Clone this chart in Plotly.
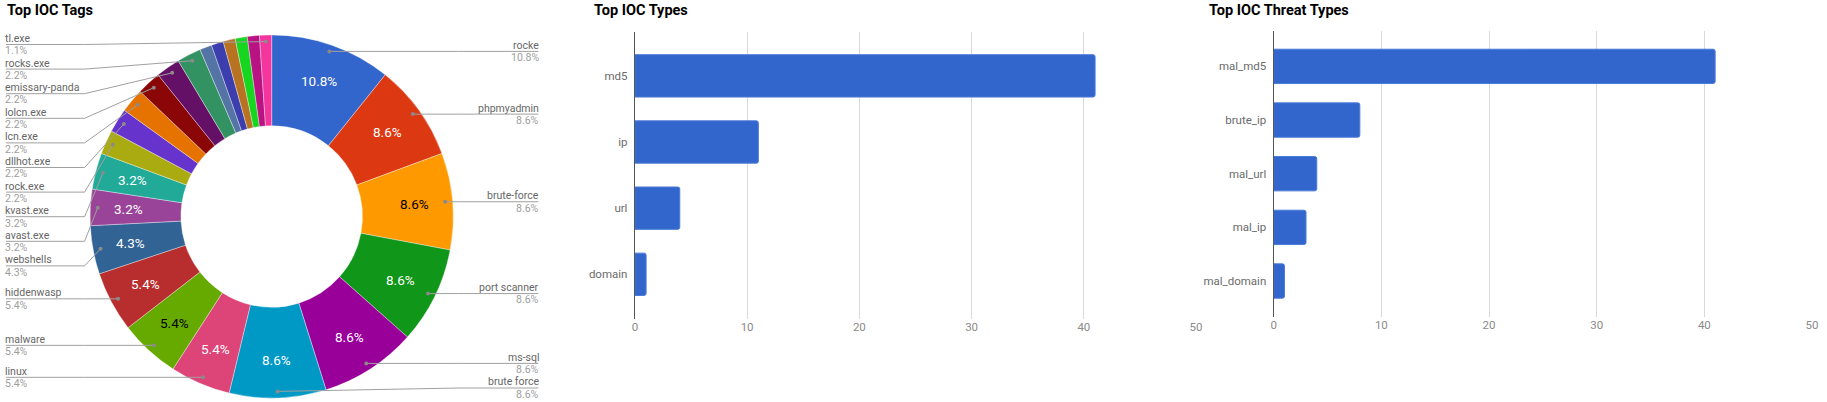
import math
import plotly.graph_objects as go

# ---------------- data ----------------
tags = ["rocke", "phpmyadmin", "brute-force", "port scanner", "ms-sql", "brute force",
        "linux", "malware", "hiddenwasp", "webshells", "avast.exe", "kvast.exe",
        "rock.exe", "dllhot.exe", "lcn.exe", "lolcn.exe", "emissary-panda", "rocks.exe",
        "other-1", "other-2", "other-3", "other-4", "other-5", "tl.exe"]
tag_counts = [10, 8, 8, 8, 8, 8, 5, 5, 5, 4, 3, 3, 2, 2, 2, 2, 2, 2, 1, 1, 1, 1, 1, 1]
unlabeled_tags = {"other-1", "other-2", "other-3", "other-4", "other-5"}
dark_text_tags = {"brute-force", "malware"}

ioc_types = ["md5", "ip", "url", "domain"]
ioc_type_counts = [41, 11, 4, 1]

threat_types = ["mal_md5", "brute_ip", "mal_url", "mal_ip", "mal_domain"]
threat_type_counts = [41, 8, 4, 3, 1]

# ---------------- style ----------------
W, H = 1827, 402
FONT = "Roboto"
palette = ["#3366cc", "#dc3912", "#ff9900", "#109618", "#990099", "#0099c6", "#dd4477",
           "#66aa00", "#b82e2e", "#316395", "#994499", "#22aa99", "#aaaa11", "#6633cc",
           "#e67300", "#8b0707", "#651067", "#329262", "#5574a6", "#3b3eac", "#b77322",
           "#16d620", "#b91383", "#f4359e"]
BAR = "#3366cc"
GRID = "#d9d9d9"
LEAD = "#a0a0a0"
NAME_C = "#666666"
PCT_C = "#9e9e9e"


def px(x):
    return x / W


def py(y):
    return 1 - y / H


# pie geometry (pixels)
cx, cy, R = 270, 216.5, 182.5
R_DOT, R_TXT = 175, 144

fig = go.Figure()

fig.add_trace(go.Pie(
    labels=tags, values=tag_counts, hole=0.5, sort=False, direction="clockwise",
    rotation=0, textinfo="none", showlegend=False,
    marker=dict(colors=palette[:len(tags)], line=dict(color="rgba(255,255,255,0.6)", width=0.6)),
    domain=dict(x=[px(cx - R), px(cx + R)], y=[py(cy + R), py(cy - R)]),
))

annotations = []
shapes = []
total = sum(tag_counts)
cum = 0
left, right = [], []
for name, v in zip(tags, tag_counts):
    mid = (cum + v / 2) / total * 2 * math.pi
    cum += v
    s, c = math.sin(mid), math.cos(mid)
    pct = 100 * v / total
    if pct >= 3:
        annotations.append(dict(
            x=px(cx + R_TXT * s), y=py(cy - R_TXT * c), xref="paper", yref="paper",
            text=f"{pct:.1f}%", showarrow=False, xanchor="center", yanchor="middle",
            font=dict(family=FONT, size=13.5, color="#000000" if name in dark_text_tags else "#ffffff")))
    if name in unlabeled_tags:
        continue
    dot = (cx + R_DOT * s, cy - R_DOT * c)
    (right if s > 0 else left).append([name, pct, dot, dot[1]])

GAP, YMIN, YMAX = 24.6, 44.5, 388


def stack(items):
    items.sort(key=lambda t: t[2][1])
    prev = -1e9
    for it in items:
        it[3] = max(it[2][1], prev + GAP, YMIN)
        prev = it[3]
    nxt = 1e9
    for it in reversed(items):
        it[3] = min(it[3], nxt - GAP, YMAX)
        nxt = it[3]


stack(left)
stack(right)

LBL_SIZE = 10.5
for side, items in (("left", left), ("right", right)):
    for name, pct, dot, ly in items:
        if side == "left":
            x_end, x_bend, xa, xt = 3, 82, "left", 2
        else:
            x_end, x_bend, xa, xt = 538, 458, "right", 539
        shapes.append(dict(type="line", xref="paper", yref="paper", layer="above",
                           x0=px(x_end), y0=py(ly), x1=px(x_bend), y1=py(ly),
                           line=dict(color=LEAD, width=1)))
        shapes.append(dict(type="line", xref="paper", yref="paper", layer="above",
                           x0=px(x_bend), y0=py(ly), x1=px(dot[0]), y1=py(dot[1]),
                           line=dict(color=LEAD, width=1)))
        shapes.append(dict(type="circle", xref="paper", yref="paper", layer="above",
                           x0=px(dot[0] - 2), x1=px(dot[0] + 2), y0=py(dot[1] + 2), y1=py(dot[1] - 2),
                           fillcolor="#8a8a8a", line=dict(width=0)))
        annotations.append(dict(x=px(xt), y=py(ly - 6.1), xref="paper", yref="paper",
                                text=name, showarrow=False, xanchor=xa, yanchor="middle",
                                borderpad=0, borderwidth=0,
                                font=dict(family=FONT, size=LBL_SIZE, color=NAME_C)))
        annotations.append(dict(x=px(xt), y=py(ly + 6.3), xref="paper", yref="paper",
                                text=f"{pct:.1f}%", showarrow=False, xanchor=xa, yanchor="middle",
                                borderpad=0, borderwidth=0,
                                font=dict(family=FONT, size=LBL_SIZE, color=PCT_C)))

# titles
for text, x in (("Top IOC Tags", 2), ("Top IOC Types", 592), ("Top IOC Threat Types", 1210)):
    annotations.append(dict(x=px(x), y=py(10), xref="paper", yref="paper", text=f"<b>{text}</b>",
                            showarrow=False, xanchor="left", yanchor="middle",
                            font=dict(family=FONT, size=14.5, color="#000000")))

bar_style = dict(color=BAR, line=dict(color="#4a7bd8", width=1), cornerradius=2)
fig.add_trace(go.Bar(x=ioc_type_counts, y=ioc_types, orientation="h", width=0.64,
                     marker=bar_style, xaxis="x", yaxis="y", showlegend=False))
fig.add_trace(go.Bar(x=threat_type_counts, y=threat_types, orientation="h", width=0.64,
                     marker=bar_style, xaxis="x2", yaxis="y2", showlegend=False))

xcommon = dict(range=[0, 50], dtick=10, showgrid=True, gridcolor=GRID, gridwidth=1,
               zeroline=False, showline=False, ticks="",
               tickfont=dict(family=FONT, size=11.5, color="#8a8a8a"), fixedrange=True)
ycommon = dict(type="category", showgrid=False, zeroline=False, showline=True,
               linecolor="#555555", linewidth=1.3, ticks="", ticklabelstandoff=4,
               tickfont=dict(family=FONT, size=11.5, color="#6b6b6b"), fixedrange=True)

fig.update_layout(
    width=W, height=H, margin=dict(l=0, r=0, t=0, b=0),
    paper_bgcolor="white", plot_bgcolor="white",
    font=dict(family=FONT),
    showlegend=False,
    xaxis=dict(domain=[px(635), px(1199)], anchor="y", **xcommon),
    yaxis=dict(domain=[py(318.5), py(32)], anchor="x",
               range=[len(ioc_types) - 1 + 0.668, -0.663], **ycommon),
    xaxis2=dict(domain=[px(1277), px(1818)], anchor="y2", **xcommon),
    yaxis2=dict(domain=[py(316.7), py(30.7)], anchor="x2",
                range=[len(threat_types) - 1 + 0.665, -0.665], **ycommon),
    annotations=annotations,
    shapes=shapes,
)

fig.write_html("out.html", config={"displayModeBar": False},
               post_script="document.body.style.margin='0';document.body.style.overflow='hidden';")
